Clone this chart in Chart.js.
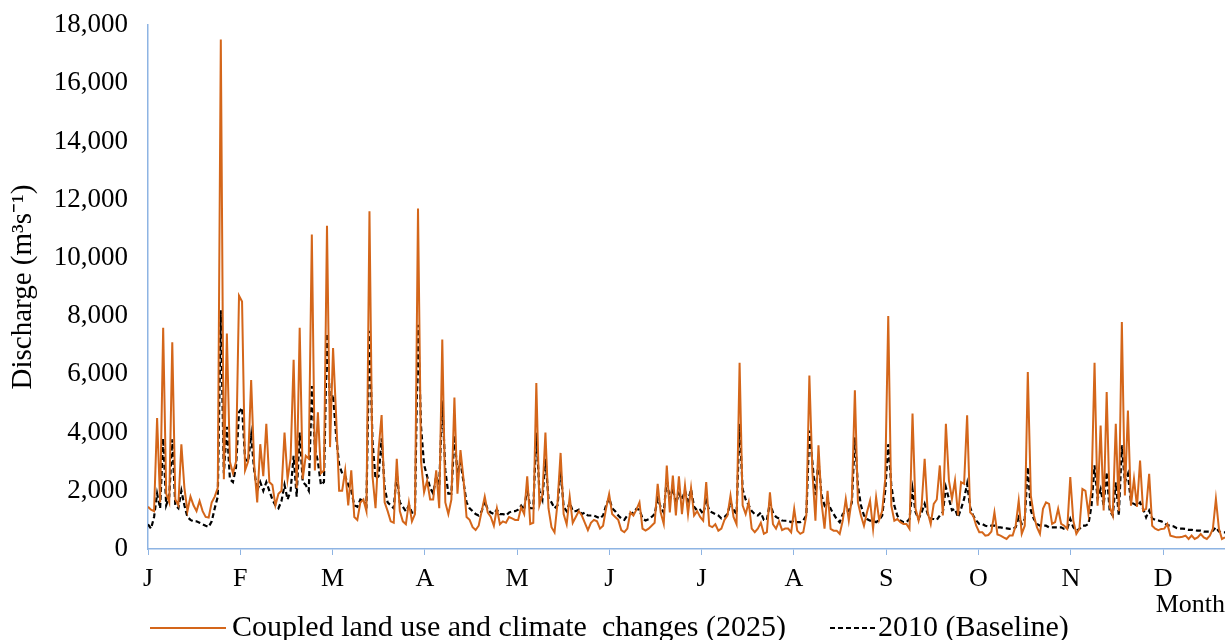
<!DOCTYPE html>
<html>
<head>
<meta charset="utf-8">
<script src="https://cdn.jsdelivr.net/npm/chart.js@4.4.0/dist/chart.umd.min.js"></script>
<style>
  html, body { margin: 0; padding: 0; background: #fff; }
  #wrap { width: 1225px; height: 640px; position: relative; }
</style>
</head>
<body>
<div id="wrap"><canvas id="chart"></canvas></div>
<script>
const monthLabels = ["J", "F", "M", "A", "M", "J", "J", "A", "S", "O", "N", "D"];
const yTicks = [0, 2000, 4000, 6000, 8000, 10000, 12000, 14000, 16000, 18000];

// daily discharge, m3/s (day 0 = 1 January)
const coupled2025 = [
  1450, 1350, 1300, 4500, 1600, 7600, 1900, 1600, 7100, 1700,
  1500, 3600, 2100, 1300, 1800, 1500, 1300, 1650, 1300, 1100,
  1080, 1600, 1800, 2100, 17500, 2400, 7400, 3000, 2600, 3000,
  8700, 8500, 2700, 3000, 5800, 2900, 1600, 3600, 2500, 4300,
  2300, 2200, 1500, 1900, 2000, 4000, 2400, 3100, 6500, 2100,
  7600, 2400, 3200, 3100, 10800, 2700, 4700, 2600, 2700, 11100,
  3500, 6900, 4600, 2000, 2000, 2700, 1500, 2700, 1100, 1000,
  1600, 1700, 1300, 11600, 2500, 1400, 3400, 4600, 1600, 1300,
  950, 900, 3100, 1300, 950, 850, 1600, 950, 1200, 11700,
  3000, 1950, 2350, 1700, 1700, 2700, 1400, 7200, 1600, 1200,
  1700, 5200, 1900, 3400, 2400, 1100, 1000, 750, 650, 800,
  1300, 1800, 1250, 1100, 800, 1400, 850, 950, 900, 1100,
  1050, 1000, 1000, 1430, 1200, 2500, 860, 900, 5700, 1500,
  1850, 4000, 1400, 750, 570, 1600, 3300, 1200, 850, 1800,
  900, 1100, 1300, 1150, 900, 650, 900, 1000, 950, 700,
  800, 1400, 1890, 1200, 1100, 1000, 650, 575, 700, 1260,
  1150, 1350, 1600, 700, 630, 700, 800, 900, 2240, 1250,
  860, 2870, 1260, 2520, 1150, 2500, 1200, 2180, 1200, 2100,
  1150, 1300, 1100, 975, 2300, 800, 750, 850, 630, 700,
  1000, 1150, 1835, 1100, 850, 6400, 1500, 1200, 1600, 700,
  575, 700, 900, 520, 580, 1950, 850, 700, 950, 650,
  700, 700, 575, 1380, 630, 520, 580, 1150, 5960, 2640,
  975, 3560, 1600, 700, 2000, 690, 630, 630, 520, 975,
  1720, 975, 1720, 5450, 1600, 1150, 800, 1260, 1660, 690,
  1780, 1000, 1300, 2400, 8000, 1500, 975, 1030, 920, 860,
  860, 690, 4650, 1380, 975, 1490, 3100, 1260, 860, 1550,
  1700, 2870, 1150, 4300, 2350, 1720, 2350, 1150, 2300, 2240,
  4590, 1260, 1150, 800, 575, 575, 460, 480, 600, 1260,
  500, 460, 400, 345, 460, 460, 800, 1660, 520, 800,
  6080, 1835, 1150, 750, 520, 1380, 1600, 1550, 860, 920,
  1380, 860, 800, 690, 2470, 975, 520, 690, 2060, 2000,
  1200, 2060, 6400, 1490, 4240, 1320, 5390, 1450, 1150, 4300,
  1300, 7800, 1835, 4760, 1490, 2410, 1450, 3040, 1320, 1380,
  2580, 800, 700, 650, 690, 700, 860, 460, 430, 400,
  400, 420, 460, 345, 460, 345, 400, 515, 400, 345,
  460, 690, 1720, 690, 345, 400
];

const baseline2010 = [
  850, 700, 1100, 1900, 1400, 3800, 1500, 1800, 3770, 1500,
  1400, 2000, 1500, 1100, 1000, 950, 950, 900, 850, 800,
  760, 950, 1400, 1800, 8200, 2600, 4200, 2400, 2300, 2800,
  4700, 4850, 3100, 3000, 3900, 2700, 2000, 2300, 2000, 2300,
  2000, 1700, 1500, 1400, 1650, 2200, 1700, 2000, 3200, 1800,
  4000, 2300, 2200, 2000, 5600, 3500, 3000, 2200, 2300, 7400,
  5000, 5300, 3900, 2900, 2600, 2500, 2200, 2000, 1500, 1450,
  1700, 1650, 1500, 7500, 3700, 2400, 2500, 3800, 2100, 1600,
  1500, 1400, 2600, 1600, 1450, 1300, 1500, 1250, 1250, 7700,
  4200, 2900, 2500, 2100, 1900, 2500, 2200, 5100, 2700, 1900,
  1900, 3900, 2600, 3000, 2300, 1600, 1400, 1300, 1200, 1150,
  1300, 1650, 1350, 1250, 1200, 1350, 1200, 1200, 1150, 1250,
  1300, 1300, 1350, 1490, 1350, 2100, 1400, 1400, 4000, 2000,
  1700, 3100, 1750, 1600, 1400, 1500, 2750, 1450, 1300, 1600,
  1300, 1300, 1350, 1200, 1250, 1150, 1150, 1150, 1100, 1050,
  1150, 1500, 1750, 1400, 1300, 1150, 1050, 1000, 1150, 1200,
  1250, 1380, 1350, 1050, 980, 1020, 1100, 1200, 1720, 1450,
  1250, 2400, 1700, 2100, 1550, 1900, 1700, 2000, 1650, 2050,
  1450, 1320, 1350, 1200, 1660, 1320, 1250, 1200, 1150, 1050,
  1100, 1200, 1600, 1350, 1200, 4300, 2050, 1700, 1500, 1300,
  1200, 1150, 1250, 1000, 1000, 1600, 1250, 1100, 1050, 980,
  970, 970, 920, 980, 920, 920, 980, 1150, 4070, 2980,
  1850, 3040, 1850, 1500, 1660, 1380, 1200, 1030, 920, 1200,
  1300, 1300, 1600, 3840, 2180, 1500, 1150, 1030, 975, 975,
  920, 1000, 1150, 2000, 3600, 2200, 1490, 1150, 980, 920,
  920, 1030, 2060, 1260, 1030, 1260, 1550, 1200, 1030, 1030,
  1000, 1150, 1260, 2120, 1720, 1330, 1380, 1090, 1380, 1720,
  2240, 1430, 1150, 980, 860, 860, 800, 780, 800, 800,
  745, 745, 720, 710, 690, 690, 745, 1090, 860, 1030,
  2810, 1320, 1030, 860, 800, 800, 800, 745, 745, 745,
  745, 745, 690, 690, 1030, 750, 630, 690, 800, 800,
  860, 1490, 2870, 1720, 2060, 1500, 2640, 1300, 1150, 2290,
  1150, 3560, 2290, 2580, 1600, 1550, 1490, 1600, 1380, 1090,
  1320, 1050, 1000, 980, 950, 900, 820, 800, 780, 720,
  700, 700, 690, 660, 660, 640, 630, 630, 600, 600,
  600, 630, 745, 600, 575, 570
];

const seriesNames = ["Coupled land use and climate  changes (2025)", "2010 (Baseline)"];

const days = coupled2025.map((_, i) => i);
const daysPerMonth = 365 / 12;
const serif = "'Liberation Serif', 'Times New Roman', serif";
const axisBlue = "#8eb4e3";

// legend drawn under the plot, like the original figure
const bottomLegend = {
  id: "bottomLegend",
  afterDraw(chart) {
    const ctx = chart.ctx;
    const y = 628;
    const items = [
      { x0: 150, x1: 226, tx: 232 },
      { x0: 830, x1: 876, tx: 878 },
    ];
    ctx.save();
    ctx.font = "30px " + serif;
    ctx.textBaseline = "middle";
    chart.data.datasets.forEach((ds, i) => {
      const it = items[i];
      ctx.beginPath();
      ctx.strokeStyle = ds.borderColor;
      ctx.lineWidth = ds.borderWidth;
      ctx.setLineDash(ds.borderDash || []);
      ctx.moveTo(it.x0, y);
      ctx.lineTo(it.x1, y);
      ctx.stroke();
      ctx.setLineDash([]);
      ctx.fillStyle = "#000";
      ctx.fillText(ds.label, it.tx, y);
    });
    ctx.restore();
  },
};

function drawChart() {
  const ctx = document.getElementById("chart");
  const data = {
    labels: days,
    datasets: [
      {
        label: seriesNames[0],
        data: coupled2025,
        borderColor: "#d4661a",
        borderWidth: 2,
        pointRadius: 0,
        tension: 0,
      },
      {
        label: seriesNames[1],
        data: baseline2010,
        borderColor: "#000000",
        borderWidth: 2.2,
        borderDash: [5, 3],
        pointRadius: 0,
        tension: 0,
      },
    ],
  };
  const config = {
    type: "line",
    data: data,
    plugins: [bottomLegend],
    options: {
      responsive: true,
      maintainAspectRatio: false,
      animation: false,
      layout: { padding: { top: 25, right: 0, left: 0, bottom: 0 } },
      plugins: {
        legend: { display: false },
        tooltip: { enabled: false },
      },
      scales: {
        x: {
          type: "linear",
          min: 0,
          max: 355,
          afterBuildTicks: (scale) => {
            scale.ticks = monthLabels.map((_, i) => ({ value: i * daysPerMonth }));
          },
          afterFit: (scale) => {
            scale.height = 91;
          },
          ticks: {
            autoSkip: false,
            maxRotation: 0,
            padding: 9,
            color: "#000",
            font: { family: serif, size: 26 },
            callback: (value, index) => monthLabels[index],
          },
          grid: {
            display: true,
            drawOnChartArea: false,
            drawTicks: true,
            tickLength: 6,
            color: axisBlue,
          },
          border: { display: true, color: axisBlue, width: 1.5 },
          title: {
            display: true,
            text: "Month",
            align: "end",
            color: "#000",
            font: { family: serif, size: 26 },
            padding: { top: 0, bottom: 19 },
          },
        },
        y: {
          min: 0,
          max: 18000,
          afterBuildTicks: (scale) => {
            scale.ticks = yTicks.map((v) => ({ value: v }));
          },
          afterFit: (scale) => {
            scale.width = 148;
            scale.paddingTop = 0;
            scale.paddingBottom = 0;
          },
          ticks: {
            padding: 20,
            color: "#000",
            font: { family: serif, size: 27 },
            callback: (value) => value.toLocaleString("en-US"),
          },
          grid: { display: false, drawTicks: false },
          border: { display: true, color: axisBlue, width: 1.5 },
          title: {
            display: true,
            text: "Discharge (m³s⁻¹)",
            color: "#000",
            font: { family: serif, size: 29 },
            padding: { top: 6, bottom: 0 },
          },
        },
      },
    },
  };
  new Chart(ctx, config);
}

drawChart();
</script>
</body>
</html>
